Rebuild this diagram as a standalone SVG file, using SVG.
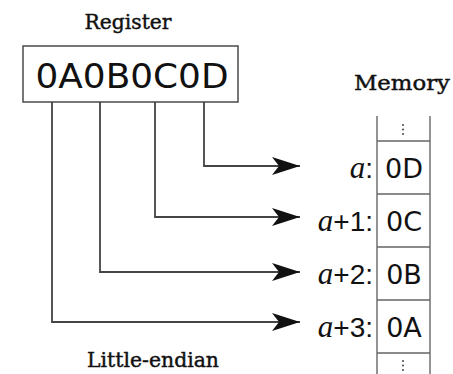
<svg xmlns="http://www.w3.org/2000/svg" width="453" height="374" viewBox="0 0 453 374">
  <defs>
    <marker id="arrow" markerUnits="userSpaceOnUse" markerWidth="30" markerHeight="20" refX="28" refY="9" orient="auto">
      <path d="M28,9 L0,0 L7,9 L0,18 Z" fill="#111"/>
    </marker>
    <style>
      .box { fill: #fff; stroke: #555; stroke-width: 1.6; }
      .wire { fill: none; stroke: #444; stroke-width: 1.8; marker-end: url(#arrow); }
      .col { fill: none; stroke: #666; stroke-width: 1.4; }
      .title { font-family: "DejaVu Serif", "Liberation Serif", serif; font-size: 21px; fill: #111; stroke: #111; stroke-width: 0.45; text-anchor: middle; }
      .hex { font-family: "DejaVu Sans", sans-serif; fill: #111; text-anchor: middle; }
      .addr { font-family: "Liberation Sans", sans-serif; font-size: 28px; fill: #111; text-anchor: end; }
      .var { font-family: "Liberation Serif", serif; font-style: italic; font-size: 31px; }
      .dot { fill: #555; }
    </style>
  </defs>

  <rect width="453" height="374" fill="#fff"/>

  <!-- register -->
  <g id="register">
    <text class="title" x="128" y="29" textLength="87" lengthAdjust="spacingAndGlyphs">Register</text>
    <rect class="box" x="23" y="46" width="215" height="56"/>
    <text class="hex" x="132" y="88" font-size="34" textLength="193" lengthAdjust="spacingAndGlyphs">0A0B0C0D</text>
  </g>

  <!-- memory column -->
  <g id="memory">
    <text class="title" x="402" y="90" textLength="96" lengthAdjust="spacingAndGlyphs">Memory</text>
    <path class="col" d="M377,116 V374 M430,116 V374 M377,141 H430 M377,194 H430 M377,247 H430 M377,300 H430 M377,353 H430"/>
    <circle class="dot" cx="403" cy="125" r="1.1"/>
    <circle class="dot" cx="403" cy="129.5" r="1.1"/>
    <circle class="dot" cx="403" cy="134" r="1.1"/>
    <circle class="dot" cx="403" cy="361" r="1.1"/>
    <circle class="dot" cx="403" cy="365.5" r="1.1"/>
    <circle class="dot" cx="403" cy="370" r="1.1"/>
  </g>

  <g id="cell0">
    <text class="addr" x="373" y="178"><tspan class="var">a</tspan>:</text>
    <text class="hex" x="404" y="178" font-size="27">0D</text>
  </g>
  <g id="cell1">
    <text class="addr" x="373" y="231"><tspan class="var">a</tspan>+1:</text>
    <text class="hex" x="404" y="231" font-size="27">0C</text>
  </g>
  <g id="cell2">
    <text class="addr" x="373" y="284"><tspan class="var">a</tspan>+2:</text>
    <text class="hex" x="404" y="284" font-size="27">0B</text>
  </g>
  <g id="cell3">
    <text class="addr" x="373" y="337"><tspan class="var">a</tspan>+3:</text>
    <text class="hex" x="404" y="337" font-size="27">0A</text>
  </g>

  <!-- byte wires from register to memory -->
  <g id="connectors">
    <path class="wire" d="M204,102 V166 H300"/>
    <path class="wire" d="M155,102 V217 H300"/>
    <path class="wire" d="M100,102 V272 H300"/>
    <path class="wire" d="M52,102 V322 H300"/>
  </g>

  <text class="title" x="153" y="367" textLength="132" lengthAdjust="spacingAndGlyphs">Little-endian</text>
</svg>
